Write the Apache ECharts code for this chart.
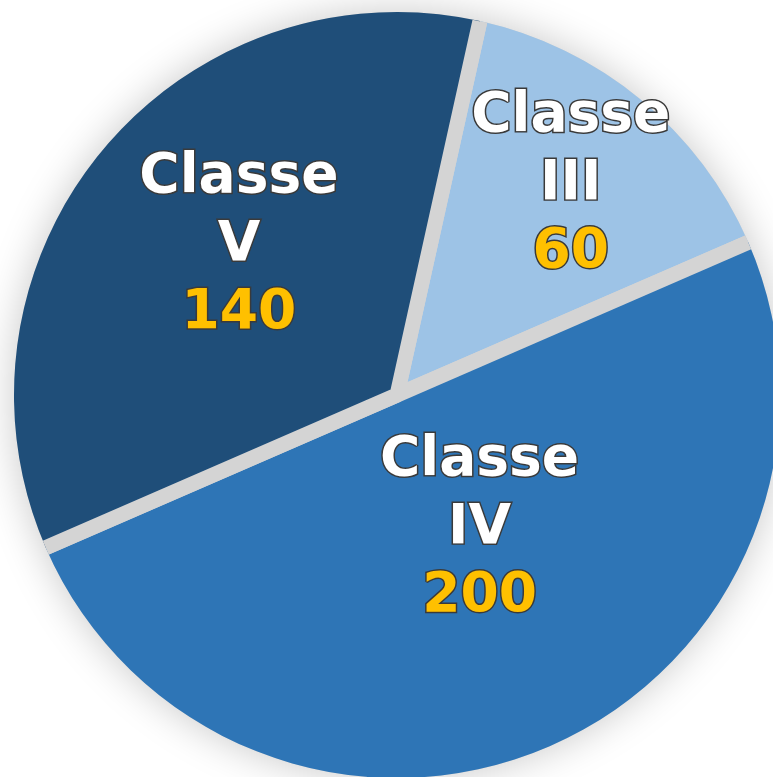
<!DOCTYPE html>
<html>
<head>
<meta charset="utf-8">
<script src="https://cdn.jsdelivr.net/npm/echarts@6/dist/echarts.min.js"></script>
<style>
  html, body { margin: 0; padding: 0; background: #fff; }
  #chart { width: 773px; height: 777px; }
</style>
</head>
<body>
<div id="chart"></div>
<script>
// ---- data ----
const categories = ['Classe III', 'Classe IV', 'Classe V'];
const values = [60, 200, 140];

// ---- style ----
const sliceColors = ['#9dc3e6', '#2e75b6', '#1f4e79'];
const gapColor = '#d4d4d4';
const center = [397, 395];
const R = 383;       // pie radius in px
const gap = 15;      // width of the grey separators

const total = values.reduce((a, b) => a + b, 0);

// only stroke the two radial edges of each slice (dash hides the outer arc)
function separatorStyle(v) {
  const arc = R * 2 * Math.PI * v / total;
  const dash = 2 * R + 20;
  return {
    borderColor: gapColor,
    borderWidth: gap,
    borderType: [dash, arc],
    borderDashOffset: dash
  };
}

// label nudges, Excel puts them a bit differently than ECharts
const labelOffsets = [[50, -60], [5, -45], [-8, -26]];

const textOutline = { textBorderColor: '#3a3a3a', textBorderWidth: 3 };

const chart = echarts.init(document.getElementById('chart'));
chart.setOption({
  animation: false,
  backgroundColor: '#fff',
  series: [
    {
      // grey disc underneath: gives the soft shadow
      type: 'pie',
      silent: true,
      center: center,
      radius: R,
      label: { show: false },
      labelLine: { show: false },
      itemStyle: {
        color: gapColor,
        shadowBlur: 40,
        shadowColor: 'rgba(0,0,0,0.22)'
      },
      data: [{ value: 1, name: 'bg' }]
    },
    {
      type: 'pie',
      silent: true,
      center: center,
      radius: R,
      startAngle: 77.5,
      clockwise: true,
      avoidLabelOverlap: false,
      labelLine: { show: false },
      label: {
        show: true,
        position: 'inside',
        fontFamily: 'DejaVu Sans',
        fontWeight: 'bold',
        fontSize: 55,
        lineHeight: 68,
        formatter: p => '{n|' + p.name.split(' ').join('}\n{n|') + '}\n{v|' + p.value + '}',
        rich: {
          n: Object.assign({ color: '#ffffff', fontFamily: 'DejaVu Sans', fontWeight: 'bold', fontSize: 55, lineHeight: 68 }, textOutline),
          v: Object.assign({ color: '#ffc000', fontFamily: 'DejaVu Sans', fontWeight: 'bold', fontSize: 55, lineHeight: 68 }, textOutline)
        }
      },
      data: categories.map((name, i) => ({
        name: name,
        value: values[i],
        itemStyle: Object.assign({ color: sliceColors[i] }, separatorStyle(values[i])),
        label: { offset: labelOffsets[i] }
      }))
    }
  ]
});
</script>
</body>
</html>
